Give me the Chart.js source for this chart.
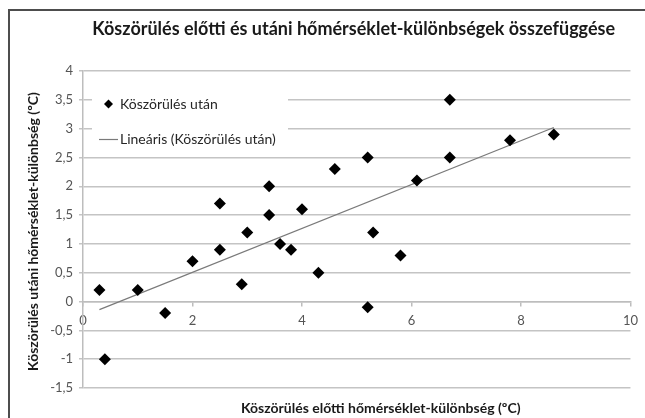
<!DOCTYPE html>
<html><head><meta charset="utf-8">
<script src="https://cdn.jsdelivr.net/npm/chart.js@4.4.0/dist/chart.umd.min.js"></script>
<style>html,body{margin:0;padding:0;background:#fff;} #wrap{position:relative;width:645px;height:418px;}</style>
</head><body><div id="wrap"><canvas id="c" width="645" height="418"></canvas></div>
<script>
const chartTitle = 'Köszörülés előtti és utáni hőmérséklet-különbségek összefüggése';
const xAxisTitle = 'Köszörülés előtti hőmérséklet-különbség (ºC)';
const yAxisTitle = 'Köszörülés utáni hőmérséklet-különbség (ºC)';
const seriesName = 'Köszörülés után';
const trendName = 'Lineáris (Köszörülés után)';
const xBefore = [0.3, 0.4, 1.0, 1.5, 2.0, 2.5, 2.5, 2.9, 3.0, 3.4, 3.4, 3.6, 3.8, 4.0, 4.3, 4.6, 5.2, 5.2, 5.3, 5.8, 6.1, 6.7, 6.7, 7.8, 8.6];
const yAfter  = [0.2, -1.0, 0.2, -0.2, 0.7, 1.7, 0.9, 0.3, 1.2, 1.5, 2.0, 1.0, 0.9, 1.6, 0.5, 2.3, 2.5, -0.1, 1.2, 0.8, 2.1, 3.5, 2.5, 2.8, 2.9];
const trendX = [0.3, 8.6];
const trendY = [-0.14, 3.02];
const xTickValues = [0, 2, 4, 6, 8, 10];
const yTickValues = [-1.5, -1, -0.5, 0, 0.5, 1, 1.5, 2, 2.5, 3, 3.5, 4];

const fmt = v => String(v).replace('.', ',');
const FONT = 'Lato, "Open Sans", sans-serif';

const decor = {
  id: 'decor',
  beforeDraw(chart) {
    const ctx = chart.ctx;
    ctx.save();
    ctx.fillStyle = '#fff';
    ctx.fillRect(0, 0, chart.width, chart.height);
    ctx.strokeStyle = '#4d4d4d';
    ctx.lineWidth = 2;
    ctx.beginPath();
    ctx.moveTo(9, chart.height);
    ctx.lineTo(9, 10);
    ctx.lineTo(chart.width, 10);
    ctx.stroke();
    ctx.restore();
  },
  beforeDatasetsDraw(chart) {
    const ctx = chart.ctx;
    const ds = chart.data.datasets;
    ctx.save();
    ctx.fillStyle = '#fff';
    ctx.fillRect(92, 82, 196, 68);
    ctx.fillStyle = '#000';
    ctx.beginPath();
    const mx = 108.5, my = 104, r = 4.5;
    ctx.moveTo(mx, my - r); ctx.lineTo(mx + r, my); ctx.lineTo(mx, my + r); ctx.lineTo(mx - r, my); ctx.closePath();
    ctx.fill();
    ctx.font = '14px ' + FONT;
    ctx.fillStyle = '#262626';
    ctx.textBaseline = 'middle';
    ctx.textAlign = 'left';
    ctx.fillText(ds[0].label, 120, 104);
    ctx.strokeStyle = ds[1].borderColor;
    ctx.lineWidth = 1.2;
    ctx.beginPath(); ctx.moveTo(99, 139.5); ctx.lineTo(118, 139.5); ctx.stroke();
    ctx.fillText(ds[1].label, 120, 139);
    ctx.restore();
  },
  afterDraw(chart) {
    const ctx = chart.ctx;
    const ca = chart.chartArea;
    const cx = (ca.left + ca.right) / 2;
    ctx.save();
    ctx.fillStyle = '#1a1a1a';
    ctx.textAlign = 'center';
    ctx.textBaseline = 'middle';
    ctx.font = 'bold 18px ' + FONT;
    ctx.fillText(chartTitle, cx - 3, 29);
    ctx.font = 'bold 14px ' + FONT;
    ctx.fillText(xAxisTitle, cx + 24, 408);
    ctx.translate(33, (ca.top + ca.bottom) / 2 + 2);
    ctx.rotate(-Math.PI / 2);
    ctx.fillText(yAxisTitle, 0, 0);
    ctx.restore();
  }
};

new Chart(document.getElementById('c'), {
  type: 'scatter',
  data: {
    datasets: [
      {
        label: seriesName,
        data: xBefore.map((x, i) => ({ x: x, y: yAfter[i] })),
        pointStyle: 'rectRot',
        pointRadius: 6,
        backgroundColor: '#000',
        borderColor: '#000',
        borderWidth: 0,
        showLine: false,
        order: 1
      },
      {
        label: trendName,
        data: trendX.map((x, i) => ({ x: x, y: trendY[i] })),
        showLine: true,
        pointRadius: 0,
        borderColor: '#7a7a7a',
        borderWidth: 1.2,
        backgroundColor: '#7a7a7a',
        order: 2
      }
    ]
  },
  options: {
    responsive: false,
    animation: false,
    devicePixelRatio: 1,
    layout: { padding: { left: 0, top: 71, right: 12, bottom: 30 } },
    plugins: { legend: { display: false }, title: { display: false }, tooltip: { enabled: false } },
    scales: {
      x: {
        type: 'linear', min: 0, max: 10, position: { y: 0 },
        afterBuildTicks: s => { s.ticks = xTickValues.map(v => ({ value: v })); },
        grid: { drawOnChartArea: false, drawTicks: true, tickLength: 4, color: '#bdbdbd', lineWidth: 1.5 },
        border: { display: true, color: '#bdbdbd', width: 1.5 },
        ticks: { font: { family: FONT, size: 13 }, color: '#555', padding: 7, maxRotation: 0, autoSkip: false, callback: fmt }
      },
      y: {
        type: 'linear', min: -1.5, max: 4,
        afterBuildTicks: s => { s.ticks = yTickValues.map(v => ({ value: v })); },
        afterFit: s => { s.width = 83; },
        grid: { color: '#c4c4c4', lineWidth: 1.5, tickLength: 4 },
        border: { display: true, color: '#bdbdbd', width: 1.5 },
        ticks: { font: { family: FONT, size: 13 }, color: '#555', padding: 6, autoSkip: false, callback: fmt }
      }
    }
  },
  plugins: [decor]
});
</script>
</body></html>
